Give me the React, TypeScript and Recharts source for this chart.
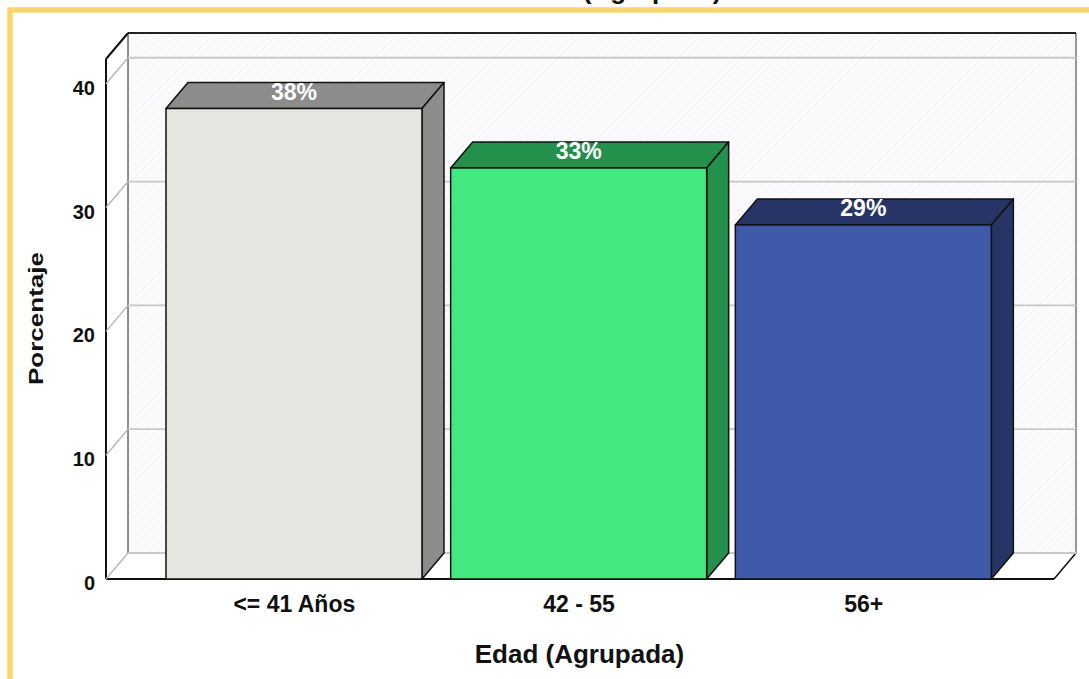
import React from 'react';
import { BarChart, Bar, XAxis, YAxis, ReferenceArea, ReferenceLine } from 'recharts';

const categories = ['<= 41 Años', '42 - 55', '56+'];
const percentages = [38.0, 33.2, 28.6];
const yTicks = [0, 10, 20, 30, 40];
const yMax = 42;
const frontColors = ['#e6e6e1', '#42e97f', '#3e5aa8'];
const shadeColors = ['#8c8c8a', '#23904b', '#263566'];

const data = categories.map((name, i) => ({ name, value: percentages[i] }));

const DX = 22;
const DY = 26;
const FONT = '"Liberation Sans", Arial, Helvetica, sans-serif';

const Box3D = (props: any) => {
  const { x, y, width, height, index, payload } = props;
  const r = x + width;
  const b = y + height;
  const val = payload && payload.value != null ? payload.value : props.value;
  return (
    <g>
      <polygon
        points={`${x},${y} ${x + DX},${y - DY} ${r + DX},${y - DY} ${r},${y}`}
        fill={shadeColors[index]}
        stroke="#111"
        strokeWidth={1.5}
        strokeLinejoin="round"
      />
      <polygon
        points={`${r},${y} ${r + DX},${y - DY} ${r + DX},${b - DY} ${r},${b}`}
        fill={shadeColors[index]}
        stroke="#111"
        strokeWidth={1.5}
        strokeLinejoin="round"
      />
      <rect x={x} y={y} width={width} height={height} fill={frontColors[index]} stroke="#111" strokeWidth={1.5} />
      <text
        x={x + width / 2}
        y={y - 9}
        textAnchor="middle"
        fill="#ffffff"
        fontFamily={FONT}
        fontWeight="bold"
        fontSize={23}
      >
        {`${Math.round(Number(val))}%`}
      </text>
    </g>
  );
};

const Frame = (props: any) => {
  const { x, y, width, height } = props;
  const L = x;
  const R = x + width;
  const T = y;
  const B = y + height;
  return (
    <g>
      <defs>
        <pattern id="hatch" width="5" height="5" patternUnits="userSpaceOnUse" patternTransform="rotate(45)">
          <rect width="5" height="5" fill="#fbfbfd" />
          <line x1="0" y1="0" x2="0" y2="5" stroke="#f2f2f6" strokeWidth="1.5" />
        </pattern>
      </defs>
      <polygon points={`${L + DX},${T - DY} ${R + DX},${T - DY} ${R + DX},${B - DY} ${L + DX},${B - DY}`} fill="url(#hatch)" />
      <polygon points={`${L},${T} ${L + DX},${T - DY} ${L + DX},${B - DY} ${L},${B}`} fill="#ffffff" />
      <polygon points={`${L},${B} ${L + DX},${B - DY} ${R + DX},${B - DY} ${R},${B}`} fill="#ffffff" />
      <line x1={L + DX} y1={T - DY} x2={L + DX} y2={B - DY} stroke="#444" strokeWidth={1.2} />
      <line x1={R + DX} y1={T - DY} x2={R + DX} y2={B - DY} stroke="#555" strokeWidth={1.2} />
      <line x1={L} y1={T} x2={L} y2={B} stroke="#111" strokeWidth={2} />
      <line x1={L} y1={T} x2={L + DX} y2={T - DY} stroke="#111" strokeWidth={2} />
      <line x1={L + DX} y1={T - DY} x2={R + DX} y2={T - DY} stroke="#222" strokeWidth={2} />
      <line x1={L} y1={B} x2={R} y2={B} stroke="#111" strokeWidth={2} />
      <line x1={R} y1={B} x2={R + DX} y2={B - DY} stroke="#111" strokeWidth={1.5} />
    </g>
  );
};

const GridLine3D = (props: any) => {
  const { x1, y1, x2 } = props;
  return (
    <g>
      <line x1={x1} y1={y1} x2={x1 + DX} y2={y1 - DY} stroke="#b8b8b8" strokeWidth={1.5} />
      <line x1={x1 + DX} y1={y1 - DY} x2={x2 + DX} y2={y1 - DY} stroke="#c8c8c8" strokeWidth={1.8} />
    </g>
  );
};

const YTick = (props: any) => {
  const { x, y, payload } = props;
  return (
    <text x={x} y={y + 11} textAnchor="end" fill="#111" fontFamily={FONT} fontWeight="bold" fontSize={20}>
      {payload.value}
    </text>
  );
};

const XTick = (props: any) => {
  const { x, y, payload } = props;
  return (
    <text x={x} y={y + 33} textAnchor="middle" fill="#111" fontFamily={FONT} fontWeight="bold" fontSize={23}>
      {payload.value}
    </text>
  );
};

export default function App() {
  return (
    <div style={{ position: 'absolute', left: 0, top: 0, width: 1089, height: 679, overflow: 'hidden', background: '#ffffff' }}>
      <div style={{ position: 'absolute', left: 0, top: 0 }}>
        <BarChart width={1089} height={679} data={data} margin={{ top: 59, right: 35, bottom: 60, left: 46 }}>
          <XAxis
            dataKey="name"
            type="category"
            padding={{ left: 46, right: 48 }}
            height={40}
            axisLine={false}
            tickLine={false}
            tickSize={0}
            tickMargin={0}
            tick={<XTick />}
            interval={0}
          />
          <XAxis xAxisId="f" type="number" domain={[0, 1]} hide height={0} />
          <YAxis
            type="number"
            domain={[0, yMax]}
            ticks={yTicks}
            allowDataOverflow
            width={60}
            axisLine={false}
            tickLine={false}
            tickSize={0}
            tickMargin={11}
            tick={<YTick />}
            interval={0}
          />
          <ReferenceArea xAxisId="f" y1={0} y2={yMax} shape={(p: any) => <Frame {...p} />} zIndex={-200} ifOverflow="visible" />
          {yTicks.map((t) => (
            <ReferenceLine key={t} xAxisId="f" y={t} shape={(p: any) => <GridLine3D {...p} />} zIndex={-150} ifOverflow="visible" />
          ))}
          <Bar dataKey="value" barSize={256} isAnimationActive={false} shape={(p: any) => <Box3D {...p} />} />
        </BarChart>
      </div>
      <svg width={1089} height={679} style={{ position: 'absolute', left: 0, top: 0, pointerEvents: 'none' }}>
        <rect x={10} y={10} width={1300} height={900} fill="none" stroke="#fdd66b" strokeWidth={5.5} />
        <text x={512} y={-1.5} fontFamily={FONT} fontWeight="bold" fontSize={26} fill="#111">
          Edad (Agrupada)
        </text>
        <text
          x={0}
          y={0}
          transform="translate(43,318.5) rotate(-90)"
          textAnchor="middle"
          fontFamily={FONT}
          fontWeight="bold"
          fontSize={21}
          textLength={133}
          lengthAdjust="spacingAndGlyphs"
          fill="#111"
        >
          Porcentaje
        </text>
        <text x={579.5} y={663} textAnchor="middle" fontFamily={FONT} fontWeight="bold" fontSize={26} fill="#111">
          Edad (Agrupada)
        </text>
      </svg>
    </div>
  );
}
